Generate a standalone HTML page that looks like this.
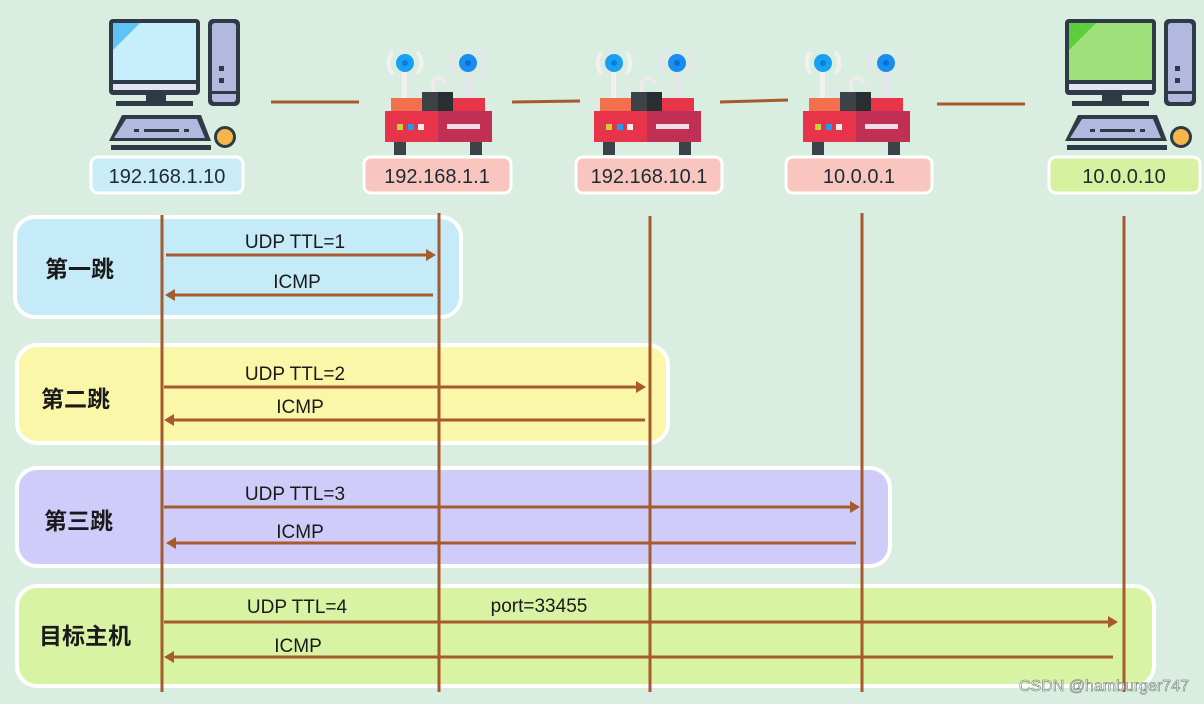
<!DOCTYPE html>
<html><head><meta charset="utf-8"><style>
html,body{margin:0;padding:0;background:#d9ede0;}
svg{display:block}
text{font-family:"Liberation Sans","Noto Sans CJK SC",sans-serif;}
</style></head><body>
<svg width="1204" height="704" viewBox="0 0 1204 704" xmlns="http://www.w3.org/2000/svg">
<defs>
<g id="pcbase">
  <rect x="5" y="84" width="83" height="6" fill="#dfe3f3"/>
  <rect x="38" y="95" width="20" height="7" fill="#2e3a46"/>
  <rect x="8" y="101" width="77" height="5" fill="#2e3a46"/>
  <rect x="100" y="19" width="32" height="87" rx="5" fill="#2e3a46"/>
  <rect x="104" y="23" width="24" height="79" rx="3" fill="#b2b8de"/>
  <rect x="111" y="66" width="5" height="5" fill="#2e3a46"/>
  <rect x="111" y="78" width="5" height="5" fill="#2e3a46"/>
  <rect x="104" y="91" width="24" height="3" fill="#2e3a46"/>
  <polygon points="14,115 93,115 103,141 1,141" fill="#2e3a46"/>
  <polygon points="18,119 89,119 97,138 6,138" fill="#b2b8de"/>
  <rect x="26" y="129" width="5" height="3" fill="#2e3a46"/>
  <rect x="36" y="129" width="35" height="3" fill="#2e3a46"/>
  <rect x="76" y="129" width="5" height="3" fill="#2e3a46"/>
  <rect x="3" y="145" width="100" height="5" fill="#2e3a46"/>
  <circle cx="117" cy="137" r="11" fill="#2e3a46"/>
  <circle cx="117" cy="137" r="8" fill="#f6b64b"/>
</g>
<g id="rt">
  <path d="M8,52 A16,16 0 0 0 8,74 M32,52 A16,16 0 0 1 32,74" stroke="#f1f1ee" stroke-width="4" fill="none"/>
  <path d="M71,52 A16,16 0 0 0 71,74 M95,52 A16,16 0 0 1 95,74" stroke="#e6e5ec" stroke-width="4" fill="none"/>
  <rect x="17" y="72" width="5" height="28" fill="#f3f1ee"/>
  <rect x="81" y="72" width="5" height="28" fill="#e5e4ea"/>
  <path d="M48,98 V84 A6,6 0 0 1 60,84" stroke="#eeecea" stroke-width="4" fill="none"/>
  <circle cx="20" cy="63" r="9" fill="#1aa0f2"/><circle cx="20" cy="63" r="3" fill="#0b7fd8"/>
  <circle cx="83" cy="63" r="9" fill="#1a8ef0"/><circle cx="83" cy="63" r="3" fill="#0b6fd0"/>
  <rect x="6" y="98" width="31" height="13" fill="#f2704e"/>
  <rect x="68" y="98" width="32" height="13" fill="#e73449"/>
  <rect x="37" y="92" width="16" height="19" fill="#3d4248"/>
  <rect x="53" y="92" width="15" height="19" fill="#2a2e33"/>
  <rect x="0" y="111" width="53" height="31" fill="#e8344a"/>
  <rect x="53" y="111" width="54" height="31" fill="#c12f55"/>
  <rect x="12" y="124" width="6" height="6" fill="#c8d040"/>
  <rect x="23" y="124" width="6" height="6" fill="#1aa0f2"/>
  <rect x="33" y="124" width="6" height="6" fill="#f4f0f0"/>
  <rect x="62" y="124" width="33" height="5" fill="#f2dde6"/>
  <rect x="9" y="142" width="12" height="13" fill="#3d4248"/>
  <rect x="85" y="142" width="12" height="13" fill="#3d4248"/>
</g>
</defs>

<!-- computers -->
<g transform="translate(108,0)">
  <rect x="1" y="19" width="91" height="76" rx="4" fill="#2e3a46"/>
  <rect x="5" y="23" width="83" height="57" fill="#c7eefb"/>
  <polygon points="5,23 32,23 5,50" fill="#5fc3f5"/>
  <use href="#pcbase"/>
</g>
<g transform="translate(1064,0)">
  <rect x="1" y="19" width="91" height="76" rx="4" fill="#2e3a46"/>
  <rect x="5" y="23" width="83" height="57" fill="#9ee07a"/>
  <polygon points="5,23 32,23 5,50" fill="#5ccd3c"/>
  <use href="#pcbase"/>
</g>

<!-- routers -->
<use href="#rt" x="385" y="0"/>
<use href="#rt" x="594" y="0"/>
<use href="#rt" x="803" y="0"/>

<!-- links -->
<g stroke="#a65a2e" stroke-width="3">
  <line x1="271" y1="102" x2="359" y2="102"/>
  <line x1="512" y1="102" x2="580" y2="101"/>
  <line x1="720" y1="102" x2="788" y2="100"/>
  <line x1="937" y1="104" x2="1025" y2="104"/>
</g>

<!-- ip labels -->
<g stroke="#ffffff" stroke-width="3">
  <rect x="91" y="157" width="152" height="36" rx="7" fill="#c9ecf8"/>
  <rect x="364" y="157" width="147" height="36" rx="7" fill="#f9c6bf"/>
  <rect x="576" y="157" width="146" height="36" rx="7" fill="#f9c6bf"/>
  <rect x="786" y="157" width="146" height="36" rx="7" fill="#f9c6bf"/>
  <rect x="1049" y="157" width="151" height="36" rx="7" fill="#d6f1a0"/>
</g>
<g font-size="20" fill="#1e2a33" text-anchor="middle">
  <text x="167" y="183">192.168.1.10</text>
  <text x="437" y="183">192.168.1.1</text>
  <text x="649" y="183">192.168.10.1</text>
  <text x="859" y="183">10.0.0.1</text>
  <text x="1124" y="183">10.0.0.10</text>
</g>

<!-- boxes -->
<g stroke="#ffffff" stroke-width="4">
  <rect x="15" y="217" width="446" height="100" rx="20" fill="#c4ebf7"/>
  <rect x="17" y="345" width="651" height="98" rx="20" fill="#fbf7a8"/>
  <rect x="17" y="468" width="873" height="98" rx="20" fill="#cfccf9"/>
  <rect x="17" y="586" width="1137" height="100" rx="20" fill="#d9f3a4"/>
</g>
<g font-size="23" font-weight="bold" fill="#1a1a1a">
  <text x="45" y="277">第一跳</text>
  <text x="41" y="407">第二跳</text>
  <text x="44" y="529">第三跳</text>
  <text x="39" y="644">目标主机</text>
</g>

<!-- lifelines -->
<g stroke="#a65a2e" stroke-width="3">
  <line x1="162" y1="215" x2="162" y2="692"/>
  <line x1="439" y1="213" x2="439" y2="692"/>
  <line x1="650" y1="216" x2="650" y2="692"/>
  <line x1="862" y1="213" x2="862" y2="692"/>
  <line x1="1124" y1="216" x2="1124" y2="692"/>
</g>

<!-- arrows -->
<g stroke="#a65a2e" stroke-width="3">
  <line x1="166" y1="255" x2="428" y2="255"/>
  <line x1="172" y1="295" x2="433" y2="295"/>
  <line x1="164" y1="387" x2="638" y2="387"/>
  <line x1="172" y1="420" x2="645" y2="420"/>
  <line x1="164" y1="507" x2="851" y2="507"/>
  <line x1="174" y1="543" x2="856" y2="543"/>
  <line x1="164" y1="622" x2="1110" y2="622"/>
  <line x1="172" y1="657" x2="1113" y2="657"/>
</g>
<g fill="#a65a2e">
  <polygon points="436,255 426,249 426,261"/>
  <polygon points="165,295 175,289 175,301"/>
  <polygon points="646,387 636,381 636,393"/>
  <polygon points="164,420 174,414 174,426"/>
  <polygon points="860,507 850,501 850,513"/>
  <polygon points="166,543 176,537 176,549"/>
  <polygon points="1118,622 1108,616 1108,628"/>
  <polygon points="164,657 174,651 174,663"/>
</g>
<g font-size="19" fill="#1a1a1a" text-anchor="middle">
  <text x="295" y="248">UDP TTL=1</text>
  <text x="297" y="288">ICMP</text>
  <text x="295" y="380">UDP TTL=2</text>
  <text x="300" y="413">ICMP</text>
  <text x="295" y="500">UDP TTL=3</text>
  <text x="300" y="538">ICMP</text>
  <text x="297" y="613">UDP TTL=4</text>
  <text x="298" y="652">ICMP</text>
  <text x="539" y="612">port=33455</text>
</g>
<text x="1189" y="691" font-size="16" fill="#ffffff" text-anchor="end" stroke="#6a7a70" stroke-width="0.6">CSDN @hamburger747</text>
</svg>
</body></html>
